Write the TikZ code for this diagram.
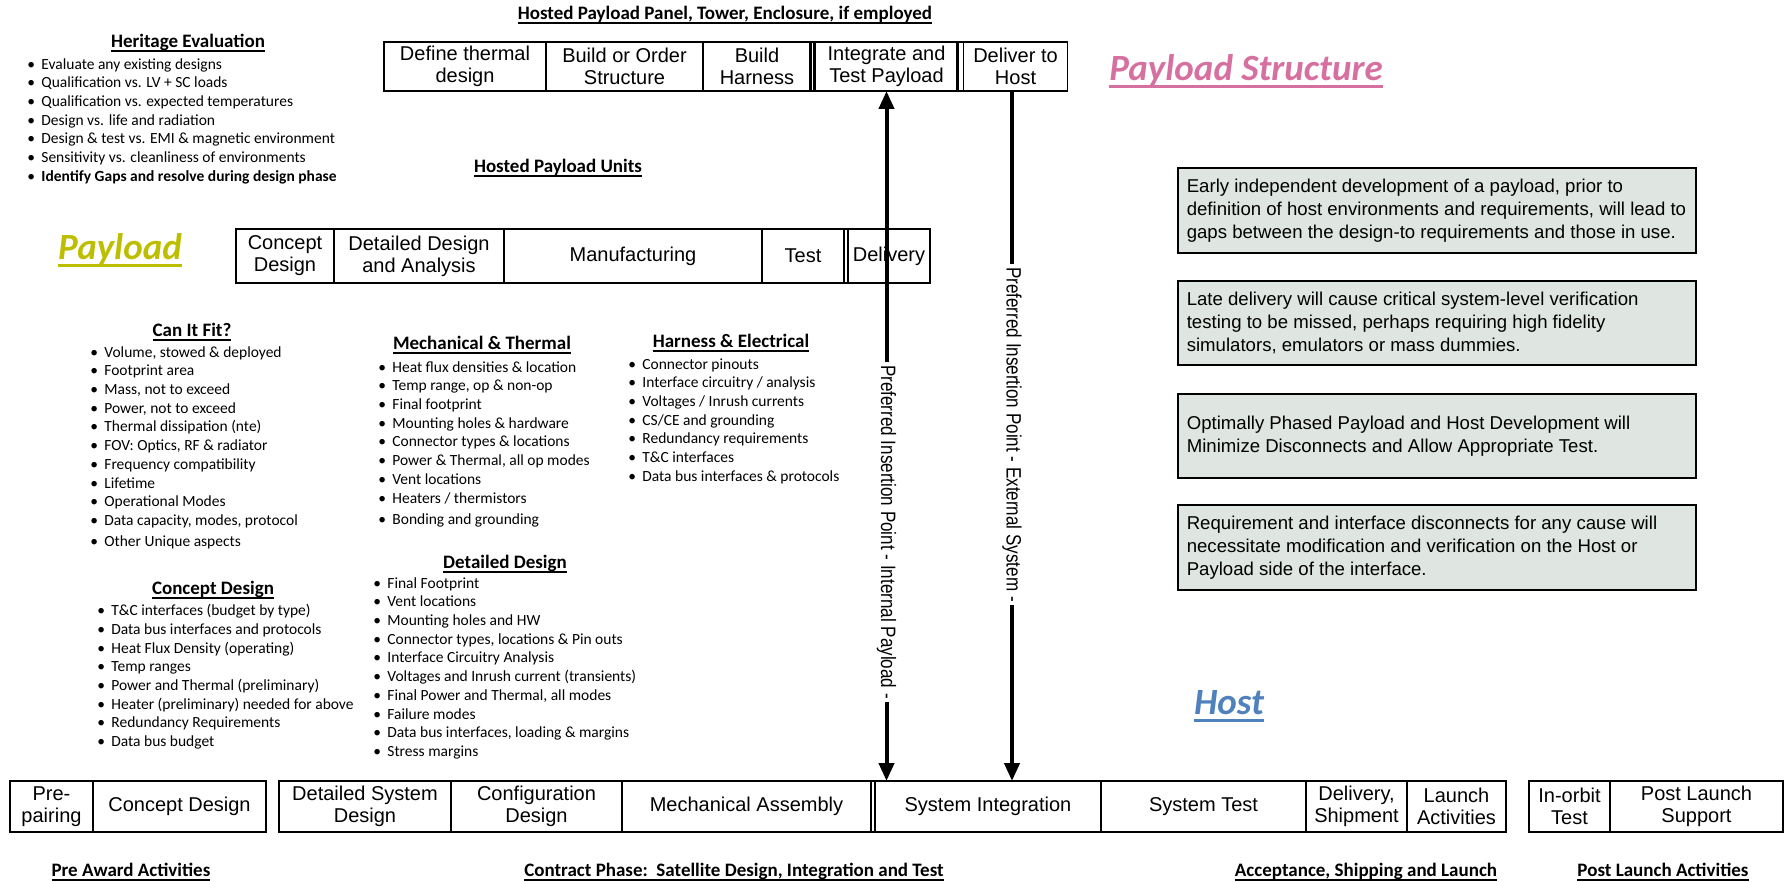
\documentclass[tikz,border=0pt]{standalone}
\usepackage{fontspec}
\setmainfont{Carlito}
\newfontfamily\arialf{Liberation Sans}
\newfontfamily\narrowf[FakeStretch=0.82]{Liberation Sans}
\usetikzlibrary{arrows.meta}
\definecolor{payolive}{RGB}{190,190,0}
\definecolor{paypink}{RGB}{214,112,160}
\definecolor{hostblue}{RGB}{79,129,189}
\definecolor{notefill}{RGB}{223,229,224}
\newcommand{\bul}{\makebox[7pt][l]{\textbullet}}
\newcommand{\myul}[1]{\setbox0=\hbox{#1}\rlap{\rule[-0.2em]{\wd0}{0.07em}}\box0}
\begin{document}
\begin{tikzpicture}[x=0.5pt,y=-0.5pt,
  cellbox/.style={draw, line width=0.75pt, inner sep=0pt, outer sep=0pt, align=center, font=\arialf\fontsize{10}{11}\selectfont},
  head/.style={font=\bfseries\fontsize{9.5}{11}\selectfont, inner sep=0pt},
  blist/.style={align=left, anchor=north west, inner sep=0pt, font=\fontsize{7.75}{9.35}\selectfont},
  bigtitle/.style={font=\bfseries\itshape\fontsize{18.5}{22}\selectfont, inner sep=0pt},
  note/.style={draw, fill=notefill, line width=0.6pt, minimum width=259pt, inner sep=0pt},
  notetext/.style={anchor=west, align=left, inner sep=0pt, font=\arialf\fontsize{9.3}{11.4}\selectfont},
  vlabel/.style={rotate=-90, inner xsep=1.5pt, inner ysep=0pt, font=\narrowf\fontsize{10.4}{11}\selectfont},
  arr/.style={line width=2pt, -{Triangle[width=7.5pt,length=9pt]}},
  bar/.style={line width=2pt},
]
\useasboundingbox (0,0) rectangle (1785,882);

% ---------- headings ----------
\node[head] (hpp) at (725,15) {\myul{Hosted Payload Panel, Tower, Enclosure, if employed}};
\node[head] (hpu) at (558,168) {\myul{Hosted Payload Units}};
\node[head] (her) at (188,43) {\myul{Heritage Evaluation}};
\node[head] (cif) at (192,332) {\myul{Can It Fit?}};
\node[head] (mth) at (482,345) {\myul{Mechanical \& Thermal}};
\node[head] (hel) at (731,343) {\myul{Harness \& Electrical}};
\node[head] (ddh) at (505,564) {\myul{Detailed Design}};
\node[head] (cdh) at (213,590) {\myul{Concept Design}};
\node[head] (paa) at (131,872) {\myul{Pre Award Activities}};
\node[head] (cph) at (734,872) {\myul{Contract Phase:\ \ Satellite Design, Integration and Test}};
\node[head] (asl) at (1366,872) {\myul{Acceptance, Shipping and Launch}};
\node[head] (pla) at (1663,872) {\myul{Post Launch Activities}};

% ---------- big titles ----------
\node[bigtitle, text=payolive] (tpay) at (120,250) {\myul{Payload}};
\node[bigtitle, text=paypink] (tps) at (1246,71) {\myul{Payload Structure}};
\node[bigtitle, text=hostblue] (thost) at (1229,706) {\myul{Host}};

% ---------- lists ----------
\node[blist] (lher) at (27,58) {%
\bul Evaluate any existing designs\\
\bul Qualification vs. LV + SC loads\\
\bul Qualification vs. expected temperatures\\
\bul Design vs. life and radiation\\
\bul Design \& test vs. EMI \& magnetic environment\\
\bul Sensitivity vs. cleanliness of environments\\
\bul \textbf{Identify Gaps and resolve during design phase}};

\node[blist] (lcif) at (90,346) {%
\bul Volume, stowed \& deployed\\
\bul Footprint area\\
\bul Mass, not to exceed\\
\bul Power, not to exceed\\
\bul Thermal dissipation (nte)\\
\bul FOV: Optics, RF \& radiator\\
\bul Frequency compatibility\\
\bul Lifetime\\
\bul Operational Modes\\
\bul Data capacity, modes, protocol\\[1.2pt]
\bul Other Unique aspects};

\node[blist] (lmth) at (378,361) {%
\bul Heat flux densities \& location\\
\bul Temp range, op \& non-op\\
\bul Final footprint\\
\bul Mounting holes \& hardware\\
\bul Connector types \& locations\\
\bul Power \& Thermal, all op modes\\
\bul Vent locations\\
\bul Heaters / thermistors\\[1.2pt]
\bul Bonding and grounding};

\node[blist] (lhel) at (628,358) {%
\bul Connector pinouts\\
\bul Interface circuitry / analysis\\
\bul Voltages / Inrush currents\\
\bul CS/CE and grounding\\
\bul Redundancy requirements\\
\bul T\&C interfaces\\
\bul Data bus interfaces \& protocols};

\node[blist] (ldd) at (373,577) {%
\bul Final Footprint\\
\bul Vent locations\\
\bul Mounting holes and HW\\
\bul Connector types, locations \& Pin outs\\
\bul Interface Circuitry Analysis\\
\bul Voltages and Inrush current (transients)\\
\bul Final Power and Thermal, all modes\\
\bul Failure modes\\
\bul Data bus interfaces, loading \& margins\\
\bul Stress margins};

\node[blist] (lcd) at (97,604) {%
\bul T\&C interfaces (budget by type)\\
\bul Data bus interfaces and protocols\\
\bul Heat Flux Density (operating)\\
\bul Temp ranges\\
\bul Power and Thermal (preliminary)\\
\bul Heater (preliminary) needed for above\\
\bul Redundancy Requirements\\
\bul Data bus budget};

% ---------- top row: payload structure ----------
\node[cellbox, minimum width=81pt,   minimum height=24.5pt] (def) at (465,66.5)   {Define thermal\\design};
\node[cellbox, minimum width=78.5pt, minimum height=24.5pt] (bos) at (624.5,66.5) {Build or Order\\Structure};
\node[cellbox, minimum width=54pt,   minimum height=24.5pt] (bh)  at (757,66.5)   {Build\\Harness};
\node[cellbox, minimum width=2pt,    minimum height=24.5pt] (g1)  at (812,66.5) {};
\node[cellbox, minimum width=71.5pt, minimum height=24.5pt] (itp) at (886.5,66.5) {Integrate and\\Test Payload};
\node[cellbox, minimum width=3.5pt,  minimum height=24.5pt] (g2)  at (960,66.5) {};
\node[cellbox, minimum width=52pt,   minimum height=24.5pt] (dth) at (1015.5,66.5) {Deliver to\\Host};

% ---------- payload row ----------
\node[cellbox, minimum width=49pt,  minimum height=27pt] (pcd) at (285,256) {Concept\\Design};
\node[cellbox, minimum width=85pt,  minimum height=27pt] (pdd) at (419,256) {Detailed Design\\and Analysis};
\node[cellbox, minimum width=129pt, minimum height=27pt] (pm)  at (633,256) {Manufacturing};
\node[cellbox, minimum width=41pt,  minimum height=27pt] (pt)  at (803,256) {Test};
\node[cellbox, minimum width=2pt,   minimum height=27pt] (pg)  at (846,256) {};
\node[cellbox, minimum width=41pt,  minimum height=27pt] (pdel) at (889,256) {Delivery};

% ---------- bottom row ----------
\node[cellbox, minimum width=41.5pt,  minimum height=25.5pt] (pre) at (51.5,806.5)  {Pre-\\pairing};
\node[cellbox, minimum width=86.5pt,  minimum height=25.5pt] (bcd) at (179.5,806.5) {Concept Design};
\node[cellbox, minimum width=86pt,    minimum height=25.5pt] (dsd) at (365,806.5)   {Detailed System\\Design};
\node[cellbox, minimum width=85.5pt,  minimum height=25.5pt] (cfg) at (536.5,806.5) {Configuration\\Design};
\node[cellbox, minimum width=124.5pt, minimum height=25.5pt] (ma)  at (746.5,806.5) {Mechanical Assembly};
\node[cellbox, minimum width=2pt,     minimum height=25.5pt] (bg)  at (873,806.5)   {};
\node[cellbox, minimum width=113pt,   minimum height=25.5pt] (si)  at (988,806.5)   {System Integration};
\node[cellbox, minimum width=102.5pt, minimum height=25.5pt] (st)  at (1203.5,806.5) {System Test};
\node[cellbox, minimum width=50.5pt,  minimum height=25.5pt] (dls) at (1356.5,806.5) {Delivery,\\Shipment};
\node[cellbox, minimum width=49.5pt,  minimum height=25.5pt] (la)  at (1456.5,806.5) {Launch\\Activities};
\node[cellbox, minimum width=40.5pt,  minimum height=25.5pt] (iot) at (1569.5,806.5) {In-orbit\\Test};
\node[cellbox, minimum width=86.5pt,  minimum height=25.5pt] (pls) at (1696.5,806.5) {Post Launch\\Support};

% ---------- notes ----------
\node[note, minimum height=42.5pt] (n1) at (1437,210.5) {};
\node[notetext] (n1t) at ([xshift=4.5pt]n1.west) {Early independent development of a payload, prior to\\definition of host environments and requirements, will lead to\\gaps between the design-to requirements and those in use.};
\node[note, minimum height=42pt] (n2) at (1437,323) {};
\node[notetext] (n2t) at ([xshift=4.5pt]n2.west) {Late delivery will cause critical system-level verification\\testing to be missed, perhaps requiring high fidelity\\simulators, emulators or mass dummies.};
\node[note, minimum height=42pt] (n3) at (1437,436) {};
\node[notetext] (n3t) at ([xshift=4.5pt]n3.west) {Optimally Phased Payload and Host Development will\\Minimize Disconnects and Allow Appropriate Test.};
\node[note, minimum height=42.5pt] (n4) at (1437,547.5) {};
\node[notetext] (n4t) at ([xshift=4.5pt]n4.west) {Requirement and interface disconnects for any cause will\\necessitate modification and verification on the Host or\\Payload side of the interface.};

% ---------- insertion point arrows ----------
\node[vlabel] (lint) at (itp.south |- 0,532) {Preferred Insertion Point - Internal Payload -};
\draw[arr] (lint.west) -- (itp.south);
\draw[arr] (lint.east) -- (lint.east |- si.north);

\coordinate (exttop) at ([xshift=-1.75pt]dth.south);
\node[vlabel] (lext) at (exttop |- 0,434.5) {Preferred Insertion Point - External System -};
\draw[bar] (exttop) -- (lext.west);
\draw[arr] (lext.east) -- (lext.east |- si.north);
\end{tikzpicture}
\end{document}
